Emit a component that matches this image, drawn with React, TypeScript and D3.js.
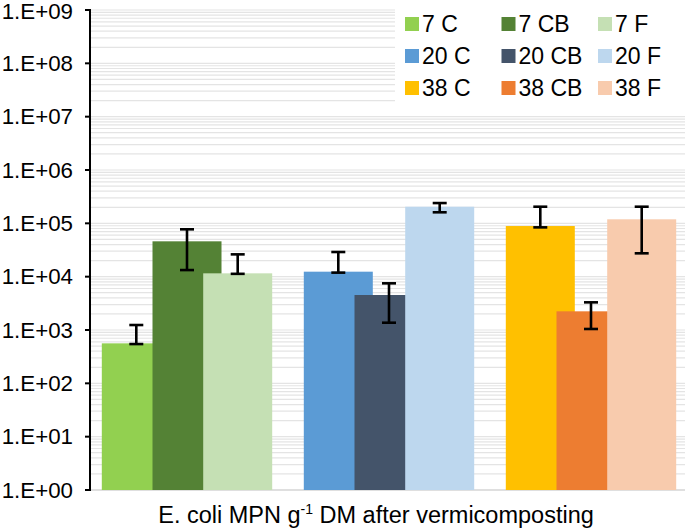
import * as React from 'react';
import * as d3 from 'd3';

const temps = ['7', '20', '38'];
const treatments = ['C', 'CB', 'F'];

// mean MPN per temperature, one array per treatment
const mpnC = [562, 12400, 89000];
const mpnCB = [46000, 4530, 2240];
const mpnF = [11550, 205000, 119000];

// error bar ends
const hiC = [1240, 29000, 205000];
const loC = [545, 11900, 84000];
const hiCB = [77200, 7500, 3300];
const loCB = [13300, 1370, 1045];
const hiF = [26200, 240000, 205000];
const loF = [11300, 161000, 27400];

const colors: Record<string, string[]> = {
    '7': ['#92d050', '#548235', '#c5e0b4'],
    '20': ['#5b9bd5', '#44546a', '#bdd7ee'],
    '38': ['#ffc000', '#ed7d31', '#f8cbad'],
};

const yTickLabels = ['1.E+00', '1.E+01', '1.E+02', '1.E+03', '1.E+04', '1.E+05', '1.E+06', '1.E+07', '1.E+08', '1.E+09'];

const W = 685;
const H = 530;
const FONT = '"Liberation Sans", Arial, sans-serif';

export default function App() {
    const y = d3.scaleLog().domain([1, 1e9]).range([490, 10]);
    const x = d3.scaleBand<string>().domain(temps).range([86, 692]);
    const sub = d3.scalePoint<string>().domain(treatments).range([-50.7, 50.7]);
    const barW = 69;

    const means = [mpnC, mpnCB, mpnF];
    const his = [hiC, hiCB, hiF];
    const los = [loC, loCB, loF];

    // gridlines at 1..9 in every decade
    const grid: number[] = [];
    for (let e = 0; e < 9; e++) {
        for (let m = 1; m <= 9; m++) grid.push(m * Math.pow(10, e));
    }
    grid.push(1e9);

    const bars: { key: string; cx: number; v: number; hi: number; lo: number; color: string }[] = [];
    temps.forEach((t, i) => {
        treatments.forEach((tr, j) => {
            bars.push({
                key: `${t} ${tr}`,
                cx: (x(t) as number) + x.bandwidth() / 2 + (sub(tr) as number),
                v: means[j][i],
                hi: his[j][i],
                lo: los[j][i],
                color: colors[t][j],
            });
        });
    });

    return (
        <svg width={W} height={H} style={{ position: 'absolute', left: 0, top: 0, background: '#fff' }} fontFamily={FONT}>
            <g>
                {grid.map((g, i) => (
                    <line key={i} x1={91} x2={W} y1={y(g)} y2={y(g)} stroke="#e4e4e4" strokeWidth={1.2} />
                ))}
            </g>
            {/* legend background */}
            <rect x={395} y={4} width={W - 395} height={109} fill="#fff" />
            <line x1={91} x2={W} y1={490} y2={490} stroke="#d9d9d9" strokeWidth={1.5} />
            {bars.map(b => (
                <rect key={b.key} x={b.cx - barW / 2} y={y(b.v)} width={barW} height={490 - y(b.v)} fill={b.color} />
            ))}
            {bars.map(b => (
                <g key={'e' + b.key} stroke="#000" strokeWidth={2.6}>
                    <line x1={b.cx} x2={b.cx} y1={y(b.hi)} y2={y(b.lo)} />
                    <line x1={b.cx - 7} x2={b.cx + 7} y1={y(b.hi)} y2={y(b.hi)} />
                    <line x1={b.cx - 7} x2={b.cx + 7} y1={y(b.lo)} y2={y(b.lo)} />
                </g>
            ))}
            {/* y axis */}
            <line x1={90} x2={90} y1={9} y2={491} stroke="#000" strokeWidth={2} />
            {yTickLabels.map((lab, i) => {
                const ty = y(Math.pow(10, i));
                return (
                    <g key={lab}>
                        <line x1={85} x2={90} y1={ty} y2={ty} stroke="#000" strokeWidth={2} />
                        <text x={73} y={Math.max(ty, 11)} dy="0.35em" textAnchor="end" fontSize={22.3} fill="#000">{lab}</text>
                    </g>
                );
            })}
            {/* legend */}
            {temps.map((t, i) =>
                treatments.map((tr, j) => {
                    const lx = 405 + j * 96.5;
                    const ly = 24 + i * 32;
                    return (
                        <g key={'l' + t + tr}>
                            <rect x={lx} y={ly - 7} width={14} height={14} fill={colors[t][j]} />
                            <text x={lx + 17} y={ly} dy="0.35em" fontSize={23} fill="#000">{`${t} ${tr}`}</text>
                        </g>
                    );
                })
            )}
            {/* x axis title */}
            <text x={376} y={523} textAnchor="middle" fontSize={23.5} fill="#000">
                E. coli MPN g<tspan dy={-9} fontSize={14}>-1</tspan><tspan dy={9}> DM after vermicomposting</tspan>
            </text>
        </svg>
    );
}
